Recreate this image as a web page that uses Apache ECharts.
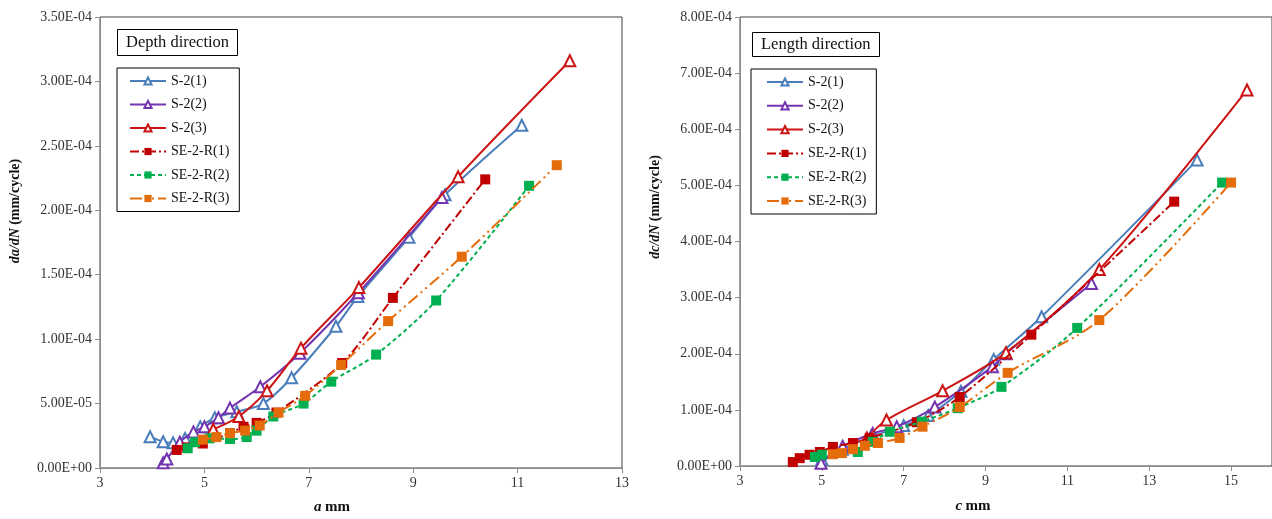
<!DOCTYPE html>
<html>
<head>
<meta charset="utf-8">
<script src="https://cdn.jsdelivr.net/npm/echarts@6/dist/echarts.min.js"></script>
<style>
html,body{margin:0;padding:0;background:#fff;}
#main{width:1272px;height:519px;}
</style>
</head>
<body>
<div id="main"></div>
<script>
// ---------- data ----------
const seriesNames = ['S-2(1)', 'S-2(2)', 'S-2(3)', 'SE-2-R(1)', 'SE-2-R(2)', 'SE-2-R(3)'];

// Depth direction: [a (mm), da/dN (mm/cycle)]
const depthS2_1 = [[3.96,2.43e-5],[4.21,2.04e-5],[4.40,1.96e-5],[4.63,2.3e-5],[4.92,3.2e-5],[5.20,3.9e-5],[5.62,4.37e-5],[6.13,5.0e-5],[6.67,7.0e-5],[7.52,1.10e-4],[7.94,1.33e-4],[8.92,1.79e-4],[9.61,2.12e-4],[11.08,2.66e-4]];
const depthS2_2 = [[4.21,0.4e-5],[4.28,0.7e-5],[4.53,2.0e-5],[4.79,2.8e-5],[5.0,3.2e-5],[5.27,3.9e-5],[5.49,4.65e-5],[6.07,6.3e-5],[6.83,8.9e-5],[7.95,1.36e-4],[9.55,2.10e-4]];
const depthS2_3 = [[5.17,3.0e-5],[5.66,4.0e-5],[6.2,6.0e-5],[6.85,9.3e-5],[7.96,1.40e-4],[9.86,2.26e-4],[12.0,3.16e-4]];
const depthR_1 = [[4.47,1.4e-5],[4.66,1.6e-5],[4.97,1.9e-5],[5.49,2.7e-5],[5.75,3.2e-5],[6.0,3.5e-5],[6.38,4.3e-5],[7.64,8.15e-5],[8.61,1.32e-4],[10.38,2.24e-4]];
const depthR_2 = [[4.68,1.53e-5],[4.82,2.0e-5],[5.1,2.3e-5],[5.49,2.25e-5],[5.81,2.4e-5],[6.0,2.9e-5],[6.32,4.0e-5],[6.9,5.0e-5],[7.43,6.7e-5],[8.29,8.8e-5],[9.44,1.30e-4],[11.22,2.19e-4]];
const depthR_3 = [[4.97,2.2e-5],[5.23,2.4e-5],[5.49,2.7e-5],[5.78,2.9e-5],[6.06,3.3e-5],[6.42,4.3e-5],[6.93,5.6e-5],[7.62,8.0e-5],[8.52,1.14e-4],[9.93,1.64e-4],[11.75,2.35e-4]];

// Length direction: [c (mm), dc/dN (mm/cycle)]
const lengthS2_1 = [[5.0,1.2e-5],[5.5,3.0e-5],[6.2,5.2e-5],[7.0,7.2e-5],[7.6,9.0e-5],[8.4,1.33e-4],[9.2,1.9e-4],[10.37,2.66e-4],[14.17,5.45e-4]];
const lengthS2_2 = [[4.98,0.5e-5],[5.51,3.5e-5],[6.24,5.8e-5],[6.83,7.0e-5],[7.76,1.05e-4],[9.17,1.77e-4],[9.5,2.0e-4],[11.59,3.25e-4]];
const lengthS2_3 = [[6.1,5.0e-5],[6.58,8.2e-5],[7.95,1.34e-4],[9.5,2.02e-4],[11.78,3.5e-4],[15.39,6.7e-4]];
const lengthR_1 = [[4.29,0.7e-5],[4.46,1.4e-5],[4.7,2.0e-5],[4.95,2.5e-5],[5.27,3.4e-5],[5.76,4.1e-5],[6.17,5.0e-5],[7.32,7.8e-5],[8.37,1.23e-4],[10.12,2.34e-4],[13.61,4.71e-4]];
const lengthR_2 = [[4.83,1.6e-5],[5.0,2.0e-5],[5.88,2.5e-5],[6.24,4.3e-5],[6.66,6.1e-5],[7.44,7.9e-5],[8.32,1.03e-4],[9.39,1.41e-4],[11.24,2.46e-4],[14.78,5.05e-4]];
const lengthR_3 = [[5.27,2.1e-5],[5.49,2.3e-5],[5.76,3.0e-5],[6.05,3.6e-5],[6.37,4.1e-5],[6.9,5.0e-5],[7.46,7.0e-5],[8.37,1.05e-4],[9.54,1.66e-4],[11.78,2.6e-4],[15.0,5.05e-4]];

const depthData = [depthS2_1, depthS2_2, depthS2_3, depthR_1, depthR_2, depthR_3];
const lengthData = [lengthS2_1, lengthS2_2, lengthS2_3, lengthR_1, lengthR_2, lengthR_3];

// ---------- styles ----------
const colors = ['#4A7EBB', '#7434B0', '#CC1414', '#C00000', '#00B050', '#E46C0A'];
const dashes = ['solid', 'solid', 'solid', [9, 3, 2, 3], [4, 3], [12, 4, 2, 4, 2, 4]];
const FONT = '"Liberation Serif", "Times New Roman", serif';

function sciLabel(v) {
  const s = Number(v).toExponential(2);
  const parts = s.split('e');
  let exp = parseInt(parts[1], 10);
  const sign = exp < 0 ? '-' : '+';
  exp = Math.abs(exp);
  return parts[0] + 'E' + sign + (exp < 10 ? '0' + exp : '' + exp);
}

function makeSeries(dataSets, idx) {
  return dataSets.map((d, i) => {
    const isS = i < 3;
    return {
      name: seriesNames[i],
      type: 'line',
      xAxisIndex: idx,
      yAxisIndex: idx,
      data: d,
      smooth: 0.3,
      symbol: isS ? 'emptyTriangle' : 'rect',
      symbolSize: isS ? 11 : 10,
      showAllSymbol: true,
      itemStyle: { color: colors[i], borderColor: colors[i], borderWidth: isS ? 1.2 : 0 },
      lineStyle: { color: colors[i], width: 2, type: dashes[i] },
      emphasis: { disabled: true },
      z: 3 + i
    };
  });
}

function xAxisCfg(gi, min, max) {
  return {
    gridIndex: gi, type: 'value', min: min, max: max, interval: 2,
    axisLine: { show: true, lineStyle: { color: '#8c8c8c', width: 1 } },
    axisTick: { show: true, inside: false, length: 5, lineStyle: { color: '#8c8c8c' } },
    axisLabel: { color: '#333', fontFamily: FONT, fontSize: 14, margin: 8, showMaxLabel: gi === 0 },
    splitLine: { show: false }
  };
}
function yAxisCfg(gi, max, interval) {
  return {
    gridIndex: gi, type: 'value', min: 0, max: max, interval: interval,
    axisLine: { show: true, lineStyle: { color: '#8c8c8c', width: 1 } },
    axisTick: { show: true, inside: false, length: 5, lineStyle: { color: '#8c8c8c' } },
    axisLabel: { color: '#333', fontFamily: FONT, fontSize: 14, margin: 8, formatter: sciLabel },
    splitLine: { show: false }
  };
}

function legendCfg(left, top, padLeft, gap) {
  return {
    data: seriesNames,
    orient: 'vertical',
    left: left, top: top,
    itemWidth: 36, itemHeight: 9, itemGap: gap,
    padding: [6, 10, 6, padLeft],
    borderColor: '#000', borderWidth: 1,
    selectedMode: false,
    textStyle: { fontFamily: FONT, fontSize: 14, lineHeight: 14, color: '#111' }
  };
}

const chart = echarts.init(document.getElementById('main'), null, { renderer: 'canvas' });

const option = {
  backgroundColor: '#fff',
  animation: false,
  title: [
    { text: 'Depth direction', left: 117, top: 29, padding: [5, 9, 5, 9], borderColor: '#000', borderWidth: 1,
      textStyle: { fontFamily: FONT, fontSize: 16.5, fontWeight: 'normal', color: '#111' } },
    { text: 'Length direction', left: 752, top: 32, padding: [4, 9, 4, 9], borderColor: '#000', borderWidth: 1,
      textStyle: { fontFamily: FONT, fontSize: 16.5, fontWeight: 'normal', color: '#111' } }
  ],
  legend: [ legendCfg(117, 68, 12, 9.5), legendCfg(751, 69, 15, 9.8) ],
  grid: [
    { left: 100, top: 17, width: 522, height: 451, show: true, borderColor: '#404040', borderWidth: 1, backgroundColor: 'transparent' },
    { left: 740, top: 17, width: 532, height: 449, show: true, borderColor: '#404040', borderWidth: 1, backgroundColor: 'transparent' }
  ],
  xAxis: [ xAxisCfg(0, 3, 13), xAxisCfg(1, 3, 16) ],
  yAxis: [ yAxisCfg(0, 3.5e-4, 0.5e-4), yAxisCfg(1, 8e-4, 1e-4) ],
  graphic: [
    { type: 'text', x: 15, y: 211, rotation: Math.PI / 2,
      style: { text: '{i|da/dN} {b|(mm/cycle)}', align: 'center', verticalAlign: 'middle',
        rich: { i: { fontFamily: FONT, fontSize: 14, fontStyle: 'italic', fontWeight: 'bold', fill: '#111' },
                b: { fontFamily: FONT, fontSize: 14, fontWeight: 'bold', fill: '#111' } } } },
    { type: 'text', x: 655, y: 207, rotation: Math.PI / 2,
      style: { text: '{i|dc/dN} {b|(mm/cycle)}', align: 'center', verticalAlign: 'middle',
        rich: { i: { fontFamily: FONT, fontSize: 14, fontStyle: 'italic', fontWeight: 'bold', fill: '#111' },
                b: { fontFamily: FONT, fontSize: 14, fontWeight: 'bold', fill: '#111' } } } },
    { type: 'text', x: 332, y: 507,
      style: { text: '{i|a} {b|mm}', align: 'center', verticalAlign: 'middle',
        rich: { i: { fontFamily: FONT, fontSize: 15, fontStyle: 'italic', fontWeight: 'bold', fill: '#111' },
                b: { fontFamily: FONT, fontSize: 15, fontWeight: 'bold', fill: '#111' } } } },
    { type: 'text', x: 973, y: 506,
      style: { text: '{i|c} {b|mm}', align: 'center', verticalAlign: 'middle',
        rich: { i: { fontFamily: FONT, fontSize: 15, fontStyle: 'italic', fontWeight: 'bold', fill: '#111' },
                b: { fontFamily: FONT, fontSize: 15, fontWeight: 'bold', fill: '#111' } } } }
  ],
  series: makeSeries(depthData, 0).concat(makeSeries(lengthData, 1))
};

chart.setOption(option);
</script>
</body>
</html>
